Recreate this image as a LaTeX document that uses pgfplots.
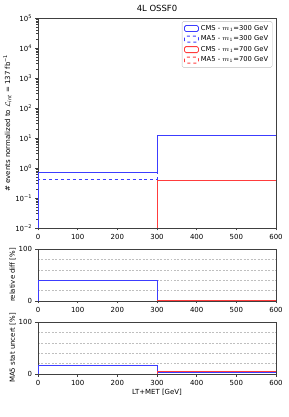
\documentclass[border=0pt]{standalone}
\usepackage{fontspec}
\setmainfont{DejaVu Sans}
\usepackage{pgfplots}
\pgfplotsset{compat=1.18}
\definecolor{cblue}{RGB}{60,60,255}
\definecolor{cred}{RGB}{255,60,60}
\pgfplotsset{
  common/.style={
    scale only axis, width=238bp, xmin=0, xmax=600,
    xtick={0,100,...,600},
    tick align=outside, xtick pos=bottom, ytick pos=left,
    major tick length=2.5bp,
    axis line style={draw=black!75, line width=0.6pt},
    tick style={black!75, line width=0.5pt},
    tick label style={font=\fontsize{7}{8}\selectfont},
    label style={font=\fontsize{7}{8}\selectfont},
    /pgf/number format/assume math mode=true,
    clip=true,
  },
  ratio/.style={common, height=52bp, ymin=0, ymax=100, ytick={0,100},
    minor ytick={20,40,60,80}, minor tick length=0pt, yminorgrids=true,
    minor grid style={dash pattern=on 2pt off 1.5pt, black!25, line width=0.4pt},
    ylabel shift=-4bp,
  },
  hist/.style={line width=0.8pt},
}
\begin{document}
\begin{tikzpicture}
\useasboundingbox (0,0) rectangle (289bp,417bp);
% main panel
\begin{axis}[common, at={(38bp,189bp)}, anchor=south west, height=210bp,
  ymode=log, ymin=1e-2, ymax=1e5,
  ytick={1e-2,1e-1,1,1e1,1e2,1e3,1e4,1e5},
  yticklabels={10\textsuperscript{−2},10\textsuperscript{−1},10\textsuperscript{0},10\textsuperscript{1},10\textsuperscript{2},10\textsuperscript{3},10\textsuperscript{4},10\textsuperscript{5}},
  yminorticks=true, minor tick length=1.5bp,
  title={4L OSSF0}, title style={font=\fontsize{8.5}{9}\selectfont, yshift=-3.5bp},
  ylabel={\# events normalized to $\mathcal{L}_{\mathit{int}}$ = 137 fb\textsuperscript{−1}},
  ylabel shift=-3bp,
  legend style={at={(0.985,0.985)}, anchor=north east, font=\fontsize{6.8}{8}\selectfont,
    draw=black!25, rounded corners=1.5pt, inner sep=2pt, row sep=0pt},
  legend cell align=left,
  legend image code/.code={\draw[#1] (0bp,-3bp) rectangle (14bp,3bp);},
]
\addplot[cblue, hist] coordinates {(0,1e-4) (0,0.70) (300,0.70) (300,12.0) (600,12.0) (600,1e-4)};
\addlegendentry{CMS - $m_1$=300 GeV}
\addplot[cblue, hist, dashed] coordinates {(0,1e-4) (0,0.42) (300,0.42) (300,12.3) (600,12.3) (600,1e-4)};
\addlegendentry{MA5 - $m_1$=300 GeV}
\addplot[cred, hist] coordinates {(300,1e-4) (300,0.40) (600,0.40) (600,1e-4)};
\addlegendentry{CMS - $m_1$=700 GeV}
\addplot[cred, hist, dashed] coordinates {(300,1e-4) (300,0.40) (600,0.40) (600,1e-4)};
\addlegendentry{MA5 - $m_1$=700 GeV}
\end{axis}
% relative diff
\begin{axis}[ratio, at={(38bp,116bp)}, anchor=south west,
  ylabel={relative diff [\%]}]
\addplot[cblue, hist] coordinates {(0,0) (0,40) (300,40) (300,2) (600,2) (600,0)};
\addplot[cred, hist] coordinates {(300,0) (300,0.5) (600,0.5) (600,0)};
\end{axis}
% stat uncert
\begin{axis}[ratio, at={(38bp,43bp)}, anchor=south west,
  ylabel={MA5 stat uncert [\%]}, xlabel={LT+MET [GeV]}, xlabel shift=-3bp]
\addplot[cblue, hist] coordinates {(0,0) (0,17) (300,17) (300,3) (600,3) (600,0)};
\addplot[cred, hist] coordinates {(0,0) (300,0) (300,4.5) (600,4.5) (600,0)};
\end{axis}
\end{tikzpicture}
\end{document}
